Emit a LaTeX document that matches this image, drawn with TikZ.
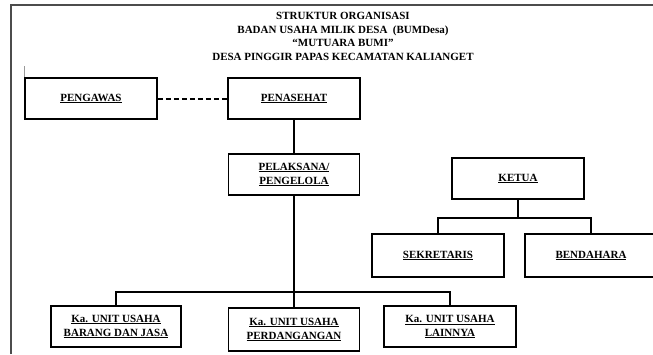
\documentclass[tikz,border=0pt]{standalone}
\usepackage{fontspec}
\setmainfont{Liberation Serif}
\tikzset{x=1pt, y=-1pt,
    kotak/.style={draw, line width=1.8pt, align=center,
        font=\fontsize{11}{14}\selectfont\bfseries,
        minimum width=132pt, minimum height=41pt, inner sep=0pt},
    garis/.style={line width=1.8pt},
    }

\begin{document}
\begin{tikzpicture}
\clip (0,0) rectangle (653,354);
\draw[line width=1.5pt, black!70] (11,354) -- (11,5) -- (653,5);
\node[align=center, font=\fontsize{11}{13.7}\selectfont\bfseries] (judul) at (343,36.5)
	{STRUKTUR ORGANISASI\\
	BADAN USAHA MILIK DESA \ (BUMDesa)\\
	``MUTUARA BUMI''\\
	DESA PINGGIR PAPAS KECAMATAN KALIANGET};
\node[kotak] (pengawas) at (91,98.5) {\underline{PENGAWAS}};
\node[kotak] (penasehat) at (294,98.5) {\underline{PENASEHAT}};
\node[kotak, minimum width=131pt] (pelaksana) at (294,174.5)
	{\underline{PELAKSANA/}\\\underline{PENGELOLA}};
\node[kotak] (ketua) at (518,178.5) {\underline{KETUA}};
\node[kotak, minimum height=43pt] (sekretaris) at (438,255.5) {\underline{SEKRETARIS}};
\node[kotak, minimum height=43pt] (bendahara) at (591,255.5) {\underline{BENDAHARA}};
\node[kotak, minimum width=130pt] (barang) at (116,326.5)
	{\underline{Ka. UNIT USAHA}\\\underline{BARANG DAN JASA}};
\node[kotak, minimum width=131pt, minimum height=43pt] (perdagangan) at (294,329.5)
	{\underline{Ka. UNIT USAHA}\\\underline{PERDANGANGAN}};
\node[kotak] (lainnya) at (450,326.5)
	{\underline{Ka. UNIT USAHA}\\\underline{LAINNYA}};
\draw[black!40, line width=0.6pt] (pengawas.north west) -- ++(0,-11);
\draw[garis, line width=2pt, dash pattern=on 5pt off 3pt] (pengawas) -- (penasehat);
\draw[garis] (penasehat) -- (pelaksana);
\draw[garis] (pelaksana.south) -- ++(0,96) coordinate (bus);
\draw[garis] (barang.north) |- (bus) -| (lainnya.north);
\draw[garis] (bus) -- (perdagangan.north);
\draw[garis] (ketua.south) -- ++(0,18) coordinate (ketuabus);
\draw[garis] (sekretaris.north) |- (ketuabus) -| (bendahara.north);
\end{tikzpicture}
\end{document}
